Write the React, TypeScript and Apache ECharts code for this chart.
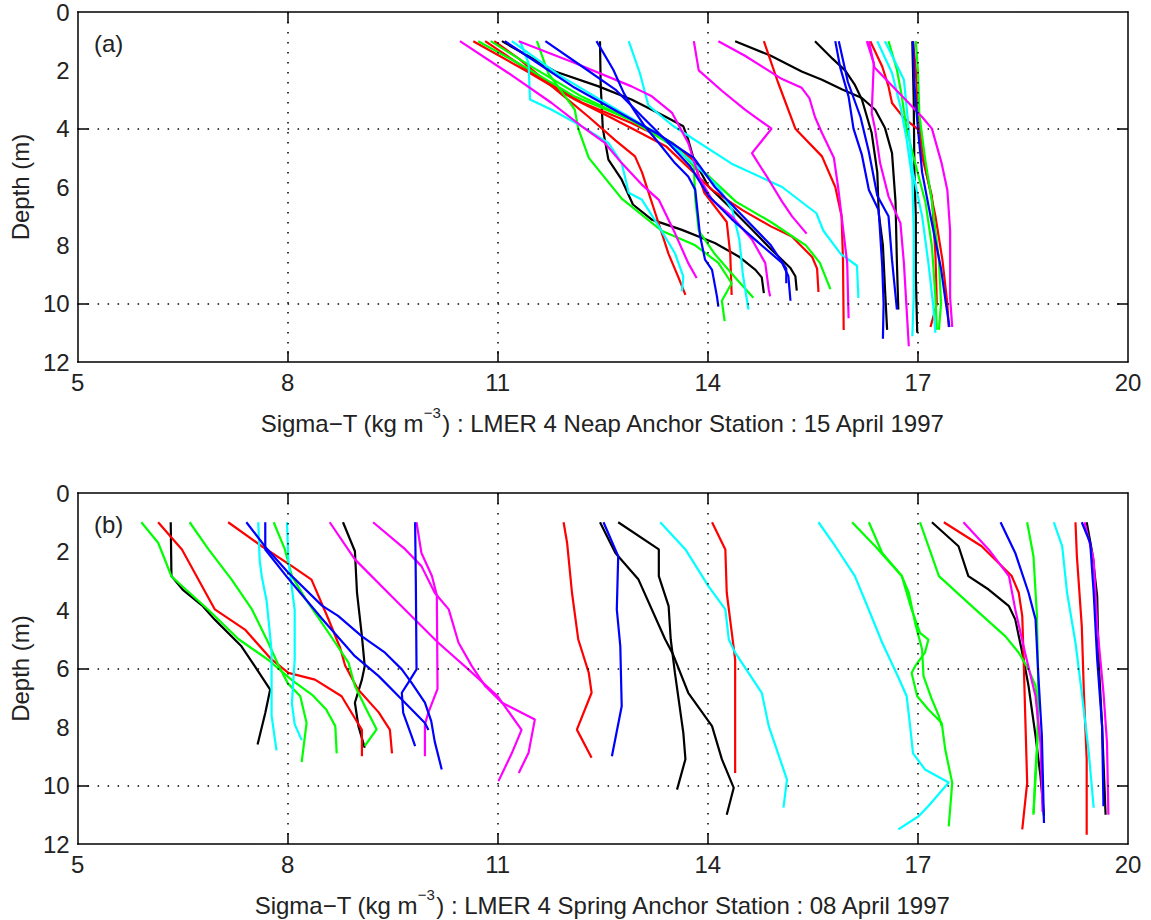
import React, { useEffect, useRef } from "react";
import * as echarts from "echarts";

// ---------- axes / ticks ----------
const xTicks = [5, 8, 11, 14, 17, 20];
const gridXValues = [8, 11, 14, 17];
const neapGridDepths = [4, 10];
const springGridDepths = [6, 10];

const neapTitle = "LMER 4 Neap Anchor Station : 15 April 1997";
const springTitle = "LMER 4 Spring Anchor Station : 08 April 1997";

// ---------- (a) Neap : profiles [sigmaT, depth] ----------
const neapBlack = [
  [[11.06,1],[11.82,2.04],[12.44,2.55],[12.91,3.0],[13.2,3.35],[13.39,3.58],[13.65,3.92],[13.72,4.38],[13.8,5.06],[14.01,5.98],[14.3,6.66],[14.63,7.46],[14.91,8.15],[15.18,8.78],[15.25,9.06],[15.27,9.55]],
  [[12.46,1],[12.47,2.5],[12.5,4.0],[12.58,5.06],[12.77,5.75],[12.93,6.6],[13.2,7.12],[13.63,7.47],[14.1,7.92],[14.44,8.38],[14.68,8.84],[14.77,9.1],[14.8,9.64]],
  [[14.39,1],[14.9,1.5],[15.34,2.04],[15.63,2.32],[15.92,2.66],[16.2,2.95],[16.39,3.35],[16.53,3.98],[16.63,4.84],[16.68,6.5],[16.7,8.6],[16.72,10.2]],
  [[15.53,1],[15.78,1.6],[15.96,2.0],[16.1,2.5],[16.2,3.0],[16.34,4.15],[16.42,5.5],[16.44,6.9],[16.5,8.0],[16.53,9.5],[16.56,10.9]],
  [[16.92,1],[16.94,3],[16.95,5.5],[16.97,7],[16.97,9],[16.99,11]],
];
const neapRed = [
  [[10.65,1],[11.39,2.0],[12.1,3.0],[12.6,3.6],[13.0,4.1],[13.4,4.6],[14.06,6.1],[14.5,6.8],[14.9,7.35],[15.2,7.7],[15.49,8.4],[15.56,8.8],[15.58,9.6]],
  [[10.82,1],[11.5,2.1],[12.2,3.1],[12.9,3.8],[13.5,4.5],[13.8,5.1],[13.95,6.2],[14.27,7.2],[14.32,8.3],[14.34,9.7]],
  [[10.95,1],[11.3,1.6],[11.8,2.6],[12.3,3.6],[12.68,4.4],[12.96,4.95],[13.06,5.5],[13.25,6.9],[13.44,8.3],[13.58,9.1],[13.68,9.7]],
  [[14.8,1],[15.0,2.4],[15.25,4.0],[15.63,4.95],[15.82,6.0],[15.91,7.0],[15.93,8.5],[15.94,10.9]],
  [[16.32,1],[16.49,1.87],[16.58,2.55],[16.63,3.12],[16.8,3.64],[17.01,4.04],[17.06,4.95],[17.2,6.32],[17.25,8.3],[17.27,10.0],[17.18,10.8]],
  [[16.93,1],[16.97,2],[16.99,3],[17.03,4],[17.12,5.5],[17.25,7],[17.35,8.5],[17.42,10],[17.44,10.8]],
];
const neapGreen = [
  [[10.72,1],[11.4,1.9],[12.1,2.9],[12.9,3.7],[13.5,4.6],[14.0,5.6],[14.4,6.5],[14.9,7.2],[15.4,8.0],[15.6,8.6],[15.75,9.5]],
  [[10.9,1],[11.5,1.9],[12.2,2.9],[12.9,3.7],[13.5,4.5],[13.8,5.3],[13.82,6.4],[13.87,7.5],[14.1,8.3],[14.39,9.1],[14.65,9.8]],
  [[11.56,1],[11.72,2.1],[12.1,3.35],[12.15,4.0],[12.3,5.0],[12.77,6.4],[13.34,7.5],[13.82,8.0],[14.15,8.6],[14.34,9.3],[14.2,9.9],[14.24,10.6]],
  [[16.58,1],[16.7,1.98],[16.77,2.89],[16.84,4.04],[16.96,5.18],[17.11,6.55],[17.2,8.04],[17.25,9.75],[17.27,10.9]],
  [[16.97,1],[17.0,2],[17.02,3.5],[17.1,5],[17.2,6.5],[17.3,8.5],[17.33,10],[17.3,10.9]],
];
const neapBlue = [
  [[11.1,1],[11.6,1.8],[12.1,2.6],[12.7,3.4],[13.3,4.2],[13.8,5.0],[14.1,6.0],[14.5,7.0],[14.9,8.0],[15.12,8.8],[15.12,9.3]],
  [[11.68,1],[12.2,1.86],[12.68,2.66],[13.06,3.58],[13.4,4.4],[13.75,5.3],[14.01,6.3],[14.34,7.1],[14.72,7.9],[15.06,8.6],[15.15,9.06],[15.18,9.9]],
  [[12.41,1],[12.65,1.98],[12.8,2.78],[12.94,3.35],[13.1,3.92],[13.3,4.49],[13.53,5.18],[13.72,5.64],[13.82,6.09],[13.89,7.69],[13.96,8.49],[14.06,8.84],[14.13,9.75],[14.15,10.1]],
  [[15.82,1],[15.89,1.9],[16.01,2.9],[16.08,4.0],[16.2,4.9],[16.3,6.1],[16.44,6.8],[16.49,8.7],[16.51,10],[16.5,11.2]],
  [[15.87,1],[16.0,2.4],[16.18,3.6],[16.3,4.8],[16.42,6.3],[16.58,7.0],[16.63,8.5],[16.7,10.2]],
  [[16.93,1],[16.95,2.5],[17.0,4],[17.06,5.5],[17.18,7.0],[17.33,8.8],[17.4,10],[17.45,10.8]],
];
const neapCyan = [
  [[11.32,1],[11.44,1.75],[11.46,3.0],[11.77,3.35],[12.2,3.92],[12.58,4.49],[12.77,5.18],[12.87,6.2],[13.06,6.44],[13.3,7.35],[13.53,8.27],[13.65,9.07],[13.63,9.58]],
  [[11.2,1],[11.9,2.2],[12.6,3.2],[13.3,4.2],[13.8,5.2],[14.15,6.0],[14.35,6.8],[14.45,7.8],[14.5,9.0],[14.58,10.2]],
  [[12.87,1],[13.03,2.1],[13.15,3.2],[13.5,3.9],[14.34,5.2],[15.06,6.0],[15.55,6.9],[15.65,7.5],[15.9,8.3],[16.13,8.7],[16.15,9.8]],
  [[16.42,1],[16.63,2.09],[16.75,3.24],[16.84,4.38],[16.92,5.75],[16.94,7.47],[16.94,9.75],[16.92,11.12]],
  [[16.53,1],[16.8,2.32],[16.87,4.04],[16.92,5.41],[17.06,7.0],[17.15,8.61],[17.22,10.09],[17.25,11.0]],
];
const neapMagenta = [
  [[10.46,1],[11.15,2.09],[11.77,3.12],[12.2,3.92],[12.53,4.49],[12.77,5.18],[13.05,5.9],[13.3,6.44],[13.53,7.58],[13.72,8.61],[13.84,9.12]],
  [[11.3,1],[12.1,1.75],[12.91,2.55],[13.2,2.89],[13.49,3.46],[13.72,4.49],[13.87,5.64],[14.06,6.44],[14.34,7.0],[14.63,7.8],[14.82,8.61],[14.87,9.52],[14.89,9.75]],
  [[13.8,1],[13.87,2.0],[14.2,2.7],[14.53,3.35],[14.91,4.0],[14.63,4.84],[14.87,5.75],[15.06,6.5],[15.2,7.0],[15.41,7.6]],
  [[14.15,1],[14.53,1.5],[15.06,2.3],[15.34,2.6],[15.45,2.95],[15.53,3.6],[15.63,4.15],[15.8,5.0],[15.86,6.0],[15.92,7.2],[15.99,8.6],[16.01,10.5]],
  [[16.27,1],[16.37,1.75],[16.34,3.46],[16.39,4.04],[16.46,5.18],[16.58,6.32],[16.75,7.24],[16.8,8.61],[16.87,11.46]],
  [[16.3,1],[16.38,1.9],[16.7,2.7],[17.06,3.6],[17.2,4.0],[17.34,5.2],[17.42,6.1],[17.46,7.5],[17.46,9.8],[17.49,10.8]],
];

// ---------- (b) Spring : profiles [sigmaT, depth] ----------
const springBlack = [
  [[6.33,1],[6.34,2.84],[6.5,3.3],[6.78,3.85],[6.96,4.33],[7.34,5.24],[7.53,5.92],[7.75,6.72],[7.68,7.52],[7.57,8.6]],
  [[8.79,1],[8.96,1.99],[8.99,3.41],[9.06,4.89],[9.1,5.92],[9.06,6.38],[8.96,7.17],[9.01,7.97],[9.1,8.71]],
  [[12.46,1],[12.68,2.05],[13.01,2.96],[13.39,5.0],[13.5,5.5],[13.72,6.83],[14.06,7.97],[14.2,9.1],[14.37,10.08],[14.27,11.0]],
  [[12.72,1],[13.3,1.93],[13.3,2.84],[13.44,3.87],[13.47,5.0],[13.53,6.15],[13.65,8.2],[13.68,9.1],[13.56,10.14]],
  [[17.2,1],[17.58,1.82],[17.72,2.84],[18.01,3.3],[18.3,3.87],[18.39,4.32],[18.49,5.46],[18.58,6.6],[18.68,8.31],[18.75,9.68],[18.8,11.05]],
  [[19.41,1],[19.49,2.05],[19.56,3.53],[19.58,5.69],[19.63,7.97],[19.68,11.0]],
];
const springRed = [
  [[6.15,1],[6.49,1.93],[6.96,3.98],[7.39,4.67],[7.77,5.69],[8.01,6.15],[8.39,6.38],[8.77,6.95],[8.96,7.7],[9.06,8.1],[9.06,9.0]],
  [[7.15,1],[7.63,1.82],[8.06,2.5],[8.34,2.96],[8.58,4.3],[8.75,5.3],[8.82,5.9],[9.0,6.7],[9.3,7.5],[9.46,8.1],[9.49,8.9]],
  [[11.94,1],[11.99,1.7],[12.06,3.41],[12.15,5.01],[12.3,6.15],[12.34,6.83],[12.13,8.09],[12.34,9.05]],
  [[14.06,1],[14.25,1.93],[14.27,3.41],[14.39,5.69],[14.39,7.63],[14.39,9.57]],
  [[17.37,1],[17.91,1.82],[18.34,2.84],[18.44,3.41],[18.49,4.21],[18.51,5.69],[18.53,7.4],[18.56,9.91],[18.49,11.5]],
  [[19.25,1],[19.27,2.16],[19.34,4.55],[19.37,6.83],[19.41,9.11],[19.41,11.68]],
];
const springGreen = [
  [[5.91,1],[6.15,1.7],[6.25,2.3],[6.34,2.85],[6.44,3.07],[6.87,4.0],[7.3,5.0],[7.72,5.7],[8.06,6.4],[8.35,6.9],[8.55,7.4],[8.68,7.97],[8.7,8.9]],
  [[6.6,1],[6.87,1.93],[7.2,2.96],[7.49,3.98],[7.72,5.1],[7.87,5.9],[8.0,6.5],[8.18,6.95],[8.27,7.86],[8.2,9.2]],
  [[7.8,1],[7.96,1.93],[8.06,2.84],[8.25,3.6],[8.45,4.3],[8.68,5.12],[8.87,5.81],[8.96,6.6],[9.15,7.52],[9.27,8.08],[9.1,8.65]],
  [[16.06,1],[16.39,1.82],[16.77,2.84],[16.91,3.98],[17.03,4.78],[17.15,5.01],[17.1,5.46],[16.96,5.92],[16.91,6.15],[16.99,6.95],[17.15,7.4],[17.34,7.86],[17.39,8.77],[17.49,9.91],[17.44,11.4]],
  [[16.3,1],[16.49,2.05],[16.77,2.84],[16.87,3.41],[16.96,4.44],[17.06,5.35],[17.08,6.26],[17.2,7.06],[17.3,7.63],[17.34,7.97]],
  [[17.03,1],[17.15,1.82],[17.3,2.84],[17.82,3.98],[18.25,4.9],[18.44,5.46],[18.58,6.03],[18.68,6.6],[18.72,7.97],[18.68,9.45],[18.65,10.94]],
  [[18.56,1],[18.65,2.16],[18.7,4.21],[18.72,6.83],[18.7,8.88],[18.65,11.0]],
];
const springBlue = [
  [[7.41,1],[7.7,1.9],[8.0,2.7],[8.49,3.85],[8.72,4.2],[9.06,4.9],[9.39,5.46],[9.63,6.03],[9.77,6.49],[9.96,7.17],[10.05,7.8],[10.1,8.5],[10.2,9.45]],
  [[7.68,1],[7.68,1.93],[8.0,2.9],[8.49,4.3],[8.96,5.58],[9.3,6.26],[9.63,7.06],[9.96,7.86],[10.01,8.1]],
  [[9.82,1],[9.83,3],[9.84,6.03],[9.72,6.49],[9.63,6.83],[9.65,7.52],[9.77,8.31],[9.82,8.65]],
  [[12.51,1],[12.72,2.16],[12.7,3.98],[12.75,5.24],[12.77,7.29],[12.63,9.0]],
  [[18.18,1],[18.39,2.05],[18.58,3.41],[18.68,4.32],[18.72,6.26],[18.77,8.31],[18.8,11.28]],
  [[19.34,1],[19.46,1.7],[19.51,3.41],[19.56,5.69],[19.63,7.97],[19.65,10.71]],
];
const springCyan = [
  [[7.58,1],[7.6,2.3],[7.63,2.85],[7.7,3.7],[7.77,5.4],[7.77,7.6],[7.84,8.8]],
  [[7.99,1],[8.01,2.3],[8.1,4.0],[8.1,5.7],[8.06,7.2],[8.1,7.9],[8.2,8.45]],
  [[13.32,1],[13.68,1.93],[14.01,3.19],[14.25,3.98],[14.3,5.01],[14.39,5.46],[14.77,6.83],[14.87,7.97],[15.13,9.8],[15.08,10.76]],
  [[15.58,1],[15.82,1.82],[16.1,2.84],[16.3,4.0],[16.49,5.12],[16.72,6.3],[16.84,6.95],[16.89,8.0],[16.93,8.9],[17.1,9.45],[17.44,9.9],[17.15,10.7],[17.01,11.05],[16.72,11.5]],
  [[18.94,1],[19.06,1.82],[19.13,3.41],[19.25,5.12],[19.34,6.83],[19.44,8.88],[19.51,10.76]],
];
const springMagenta = [
  [[8.6,1],[8.96,2.27],[9.53,3.64],[10.15,5.12],[10.58,6.03],[11.0,6.95],[11.34,8.1],[11.2,8.9],[11.01,9.85]],
  [[9.22,1],[9.68,1.93],[9.91,2.5],[10.1,3.41],[10.3,3.98],[10.44,5.12],[10.63,5.92],[10.82,6.6],[11.06,7.17],[11.53,7.74],[11.44,8.88],[11.3,9.57]],
  [[9.84,1],[9.91,2.05],[10.06,2.84],[10.13,3.5],[10.14,6.7],[10.01,7.5],[9.96,7.9],[9.96,9.0]],
  [[17.65,1],[18.01,1.93],[18.3,2.84],[18.39,3.98],[18.53,5.46],[18.68,6.95],[18.75,8.54],[18.77,10.02],[18.78,10.9]],
  [[19.38,1],[19.51,2.27],[19.56,4.55],[19.65,6.83],[19.7,8.54],[19.72,11.0]],
];

const COLORS = {
  black: "#000000",
  red: "#ff0000",
  green: "#00ff00",
  blue: "#0000ff",
  cyan: "#00ffff",
  magenta: "#ff00ff",
};

const FONT = "'Liberation Sans', Arial, sans-serif";
const TEXT = "#222222";
const FS = 24;

function profileSeries(profiles: number[][][], color: string, axis: number, tag: string) {
  return profiles.map((p, i) => ({
    name: `${tag}-${i}`,
    type: "line",
    xAxisIndex: axis,
    yAxisIndex: axis,
    data: p,
    symbol: "none",
    showSymbol: false,
    silent: true,
    z: 3,
    lineStyle: { color, width: 2.2 },
    itemStyle: { color },
  }));
}

function gridSeries(axis: number, depths: number[]) {
  return {
    type: "line",
    xAxisIndex: axis,
    yAxisIndex: axis,
    data: [[5, 0]],
    symbol: "none",
    showSymbol: false,
    silent: true,
    z: 1,
    lineStyle: { opacity: 0 },
    markLine: {
      silent: true,
      symbol: ["none", "none"],
      label: { show: false },
      lineStyle: { color: "#000", width: 1.5, type: [1.5, 8.5] },
      data: [
        ...gridXValues.map((v) => ({ xAxis: v })),
        ...depths.map((v) => ({ yAxis: v })),
      ],
    },
  };
}

const lineAxis = { show: true, onZero: false, lineStyle: { color: "#000", width: 1.5 } };

function xAxisCfg(gridIndex: number, position: string, title?: string) {
  const labels = !!title;
  return {
    type: "value",
    gridIndex,
    position,
    min: 5,
    max: 20,
    axisLine: lineAxis,
    axisTick: {
      show: true,
      inside: true,
      length: 11,
      customValues: gridXValues,
      lineStyle: { color: "#000", width: 1.5 },
    },
    axisLabel: labels
      ? {
          show: true,
          customValues: xTicks,
          margin: 8,
          fontSize: FS,
          color: TEXT,
          fontFamily: FONT,
          showMinLabel: true,
          showMaxLabel: true,
        }
      : { show: false },
    splitLine: { show: false },
    name: labels ? `{n|Sigma−T (kg m}{sup|−3}{n|) : ${title}}` : "",
    nameLocation: "middle",
    nameGap: 43,
    nameTextStyle: {
      fontSize: FS,
      color: TEXT,
      fontFamily: FONT,
      rich: {
        n: { fontSize: FS, color: TEXT, fontFamily: FONT, lineHeight: 30, verticalAlign: "bottom" },
        sup: { fontSize: 15, color: TEXT, fontFamily: FONT, lineHeight: 15, verticalAlign: "top" },
      },
    },
  };
}

function yAxisCfg(gridIndex: number, position: string, depths: number[], labels: boolean) {
  return {
    type: "value",
    gridIndex,
    position,
    inverse: true,
    min: 0,
    max: 12,
    interval: 2,
    axisLine: lineAxis,
    axisTick: {
      show: true,
      inside: true,
      length: 11,
      customValues: depths,
      lineStyle: { color: "#000", width: 1.5 },
    },
    axisLabel: labels
      ? { show: true, margin: 8, fontSize: FS, color: TEXT, fontFamily: FONT, showMinLabel: true, showMaxLabel: true }
      : { show: false },
    splitLine: { show: false },
    name: labels ? "Depth (m)" : "",
    nameLocation: "middle",
    nameGap: 42,
    nameRotate: 90,
    nameTextStyle: { fontSize: FS, color: TEXT, fontFamily: FONT },
  };
}

export default function App() {
  const ref = useRef<HTMLDivElement>(null);

  useEffect(() => {
    if (!ref.current) return;
    const chart = echarts.init(ref.current, null, { renderer: "svg" });

    const series: any[] = [
      gridSeries(0, neapGridDepths),
      gridSeries(2, springGridDepths),
      ...profileSeries(neapBlack, COLORS.black, 0, "a-black"),
      ...profileSeries(neapRed, COLORS.red, 0, "a-red"),
      ...profileSeries(neapGreen, COLORS.green, 0, "a-green"),
      ...profileSeries(neapCyan, COLORS.cyan, 0, "a-cyan"),
      ...profileSeries(neapMagenta, COLORS.magenta, 0, "a-magenta"),
      ...profileSeries(neapBlue, COLORS.blue, 0, "a-blue"),
      ...profileSeries(springBlack, COLORS.black, 2, "b-black"),
      ...profileSeries(springRed, COLORS.red, 2, "b-red"),
      ...profileSeries(springGreen, COLORS.green, 2, "b-green"),
      ...profileSeries(springCyan, COLORS.cyan, 2, "b-cyan"),
      ...profileSeries(springMagenta, COLORS.magenta, 2, "b-magenta"),
      ...profileSeries(springBlue, COLORS.blue, 2, "b-blue"),
    ];

    chart.setOption({
      animation: false,
      backgroundColor: "#ffffff",
      grid: [
        { left: 76, top: 12, width: 1052, height: 350 },
        { left: 76, top: 493, width: 1052, height: 351 },
      ],
      xAxis: [
        xAxisCfg(0, "bottom", neapTitle),
        xAxisCfg(0, "top"),
        xAxisCfg(1, "bottom", springTitle),
        xAxisCfg(1, "top"),
      ],
      yAxis: [
        yAxisCfg(0, "left", neapGridDepths, true),
        yAxisCfg(0, "right", neapGridDepths, false),
        yAxisCfg(1, "left", springGridDepths, true),
        yAxisCfg(1, "right", springGridDepths, false),
      ],
      graphic: [
        { type: "text", left: 94, top: 31, style: { text: "(a)", fontSize: FS, fill: TEXT, fontFamily: FONT } },
        { type: "text", left: 94, top: 512, style: { text: "(b)", fontSize: FS, fill: TEXT, fontFamily: FONT } },
      ],
      series,
    });

    return () => chart.dispose();
  }, []);

  return (
    <div
      ref={ref}
      style={{ position: "fixed", left: 0, top: 0, width: 1151, height: 920, background: "#fff" }}
    />
  );
}
